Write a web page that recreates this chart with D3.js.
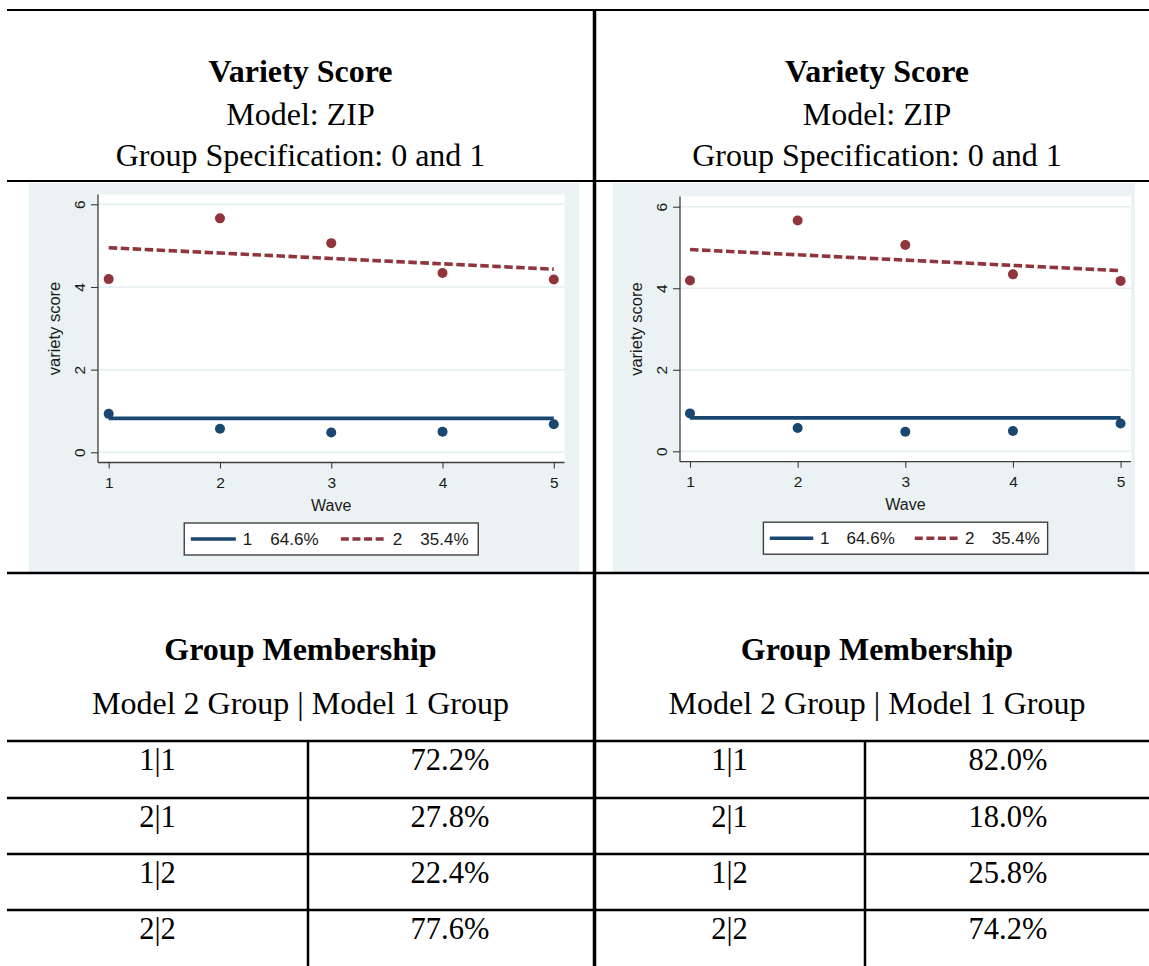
<!DOCTYPE html>
<html>
<head>
<meta charset="utf-8">
<script src="https://cdn.jsdelivr.net/npm/d3@7"></script>
<style>
  html, body { margin: 0; padding: 0; background: #ffffff; }
  svg { display: block; }
</style>
</head>
<body>
<svg id="chart" width="1149" height="966"></svg>
<script>
// ---------------- DATA ----------------
const waves = [1, 2, 3, 4, 5];
const yTicks = [0, 2, 4, 6];
const group1Observed = [0.93, 0.57, 0.48, 0.50, 0.68];
const group2Observed = [4.19, 5.66, 5.06, 4.34, 4.18];
const group1Fitted = [0.82, 0.82, 0.82, 0.82, 0.82];
const group2Fitted = [4.95, 4.82, 4.69, 4.56, 4.43];
const legendGroups = ["1", "2"];
const legendShares = ["64.6%", "35.4%"];
const xAxisTitle = "Wave";
const yAxisTitle = "variety score";

const headerTitle = "Variety Score";
const headerModel = "Model: ZIP";
const headerSpec = "Group Specification: 0 and 1";
const membershipTitle = "Group Membership";
const membershipSub = "Model 2 Group | Model 1 Group";
const membershipRows = ["1|1", "2|1", "1|2", "2|2"];
const leftShares = ["72.2%", "27.8%", "22.4%", "77.6%"];
const rightShares = ["82.0%", "18.0%", "25.8%", "74.2%"];

// ---------------- STYLE / LAYOUT ----------------
const BLUE = "#1a476f";
const RED = "#90353b";
const PANEL = "#eaf2f3";
const GRID = "#e4eef0";
const AXIS = "#3d3d3d";
const SERIF = "'Liberation Serif', 'Times New Roman', serif";
const SANS = "'Liberation Sans', Arial, sans-serif";

const svg = d3.select("#chart");
svg.append("rect").attr("width", 1149).attr("height", 966).attr("fill", "#fff");

const panels = [
  { bg: [29, 183, 550, 389], plot: [98, 194.5, 564.5, 462.5], xr: [108.7, 553.8], yr: [452.3, 204.3], cx: 300.5, k: 1 },
  { bg: [613, 183, 522, 389], plot: [680, 196.5, 1131, 461.7], xr: [690, 1120.6], yr: [451.3, 206.7], cx: 877, k: 451 / 466.5 }
];

const fitted = [group1Fitted, group2Fitted];
const observed = [group1Observed, group2Observed];
const colors = [BLUE, RED];
const dashes = [null, "8.5,3.5"];

panels.forEach(p => {
  const g = svg.append("g");
  g.append("rect").attr("x", p.bg[0]).attr("y", p.bg[1]).attr("width", p.bg[2]).attr("height", p.bg[3]).attr("fill", PANEL);
  const [px0, py0, px1, py1] = p.plot;
  g.append("rect").attr("x", px0).attr("y", py0).attr("width", px1 - px0).attr("height", py1 - py0).attr("fill", "#fff");

  const x = d3.scaleLinear().domain([1, 5]).range(p.xr);
  const y = d3.scaleLinear().domain([0, 6]).range(p.yr);

  // grid
  g.selectAll(".grid").data(yTicks).enter().append("line")
    .attr("x1", px0).attr("x2", px1)
    .attr("y1", d => y(d)).attr("y2", d => y(d))
    .attr("stroke", GRID).attr("stroke-width", 1.5);

  // y axis
  const ya = g.append("g").attr("transform", `translate(${px0},0)`)
    .call(d3.axisLeft(y).tickValues(yTicks).tickSize(7).tickFormat(d3.format("d")));
  ya.select(".domain").remove();
  ya.selectAll(".tick line").attr("stroke", AXIS).attr("stroke-width", 1.1);
  ya.selectAll(".tick text")
    .attr("x", null).attr("dy", null)
    .attr("transform", "translate(-13.5,0) rotate(-90)")
    .attr("text-anchor", "middle")
    .attr("fill", "#1a1a1a").style("font-family", SANS).style("font-size", "15.5px");
  g.append("line").attr("x1", px0).attr("x2", px0).attr("y1", py0).attr("y2", py1)
    .attr("stroke", AXIS).attr("stroke-width", 1.3);

  // x axis
  const xa = g.append("g").attr("transform", `translate(0,${py1})`)
    .call(d3.axisBottom(x).tickValues(waves).tickSize(6).tickFormat(d3.format("d")));
  xa.select(".domain").remove();
  xa.selectAll(".tick line").attr("stroke", AXIS).attr("stroke-width", 1.1);
  xa.selectAll(".tick text").attr("y", 25.5).attr("dy", null)
    .attr("fill", "#1a1a1a").style("font-family", SANS).style("font-size", "15.5px");
  g.append("line").attr("x1", px0).attr("x2", px1).attr("y1", py1).attr("y2", py1)
    .attr("stroke", AXIS).attr("stroke-width", 1.3);

  // axis titles
  g.append("text").attr("x", (px0 + px1) / 2).attr("y", py1 + 48)
    .attr("text-anchor", "middle").attr("fill", "#1a1a1a")
    .style("font-family", SANS).style("font-size", "16px").text(xAxisTitle);
  g.append("text")
    .attr("transform", `translate(${px0 - 38},${(py0 + py1) / 2}) rotate(-90)`)
    .attr("text-anchor", "middle").attr("fill", "#1a1a1a")
    .style("font-family", SANS).style("font-size", "16.5px").text(yAxisTitle);

  // fitted lines
  const line = d3.line().x((d, i) => x(waves[i])).y(d => y(d));
  fitted.forEach((s, si) => {
    g.append("path").datum(s).attr("d", line)
      .attr("fill", "none").attr("stroke", colors[si]).attr("stroke-width", 3.6)
      .attr("stroke-dasharray", dashes[si]);
  });
  // observed points
  observed.forEach((s, si) => {
    g.selectAll(null).data(s).enter().append("circle")
      .attr("cx", (d, i) => x(waves[i])).attr("cy", d => y(d)).attr("r", 5)
      .attr("fill", colors[si]);
  });

  // legend
  const k = p.k;
  const lw = 294 * k, lh = 32;
  const lx = (px0 + px1) / 2 - lw / 2, ly = py1 + 60.5;
  const lg = g.append("g").attr("transform", `translate(${lx},${ly})`);
  lg.append("rect").attr("width", lw).attr("height", lh).attr("fill", "#fff")
    .attr("stroke", "#404040").attr("stroke-width", 1.4);
  const itemX = [6.6, 156.6];
  legendGroups.forEach((lab, i) => {
    const ix = itemX[i] * k;
    lg.append("line").attr("x1", ix).attr("x2", ix + 45 * k).attr("y1", lh / 2).attr("y2", lh / 2)
      .attr("stroke", colors[i]).attr("stroke-width", 3.6)
      .attr("stroke-dasharray", i === 1 ? "8,3.6" : null);
    lg.append("text").attr("x", ix + 52 * k).attr("y", lh / 2 + 6)
      .attr("fill", "#1a1a1a").style("font-family", SANS).style("font-size", "17px").text(lab);
    lg.append("text").attr("x", ix + 79.5 * k).attr("y", lh / 2 + 6)
      .attr("fill", "#1a1a1a").style("font-family", SANS).style("font-size", "17px").text(legendShares[i]);
  });

  // header text
  const th = (txt, yy, bold, size) => svg.append("text").attr("x", p.cx).attr("y", yy)
    .attr("text-anchor", "middle").attr("fill", "#000")
    .style("font-family", SERIF).style("font-size", size + "px")
    .style("font-weight", bold ? "bold" : "normal").text(txt);
  th(headerTitle, 82, true, 32);
  th(headerModel, 124.5, false, 32);
  th(headerSpec, 166, false, 32);
  th(membershipTitle, 659.5, true, 32);
  th(membershipSub, 713.5, false, 32);
});

// ---------------- TABLE ----------------
const rowLines = [741, 798, 854, 910];
const cols = [
  { labelX: 157.5, valueX: 450, values: leftShares },
  { labelX: 729.5, valueX: 1008, values: rightShares }
];
cols.forEach(c => {
  svg.selectAll(null).data(membershipRows).enter().append("text")
    .attr("x", c.labelX).attr("y", (d, i) => rowLines[i] + 29)
    .attr("text-anchor", "middle").attr("fill", "#000")
    .style("font-family", SERIF).style("font-size", "30.5px").text(d => d);
  svg.selectAll(null).data(c.values).enter().append("text")
    .attr("x", c.valueX).attr("y", (d, i) => rowLines[i] + 29)
    .attr("text-anchor", "middle").attr("fill", "#000")
    .style("font-family", SERIF).style("font-size", "30.5px").text(d => d);
});

// rules
const hRules = [[10, 2], [181, 2], [573, 2.5]].concat(rowLines.map(r => [r, 2.5]));
hRules.forEach(([yy, w]) => {
  svg.append("line").attr("x1", 7).attr("x2", 1149).attr("y1", yy).attr("y2", yy)
    .attr("stroke", "#000").attr("stroke-width", w);
});
svg.append("line").attr("x1", 594.5).attr("x2", 594.5).attr("y1", 9).attr("y2", 966)
  .attr("stroke", "#000").attr("stroke-width", 3.5);
[308, 865].forEach(xx => {
  svg.append("line").attr("x1", xx).attr("x2", xx).attr("y1", 741).attr("y2", 966)
    .attr("stroke", "#000").attr("stroke-width", 2.5);
});
</script>
</body>
</html>
